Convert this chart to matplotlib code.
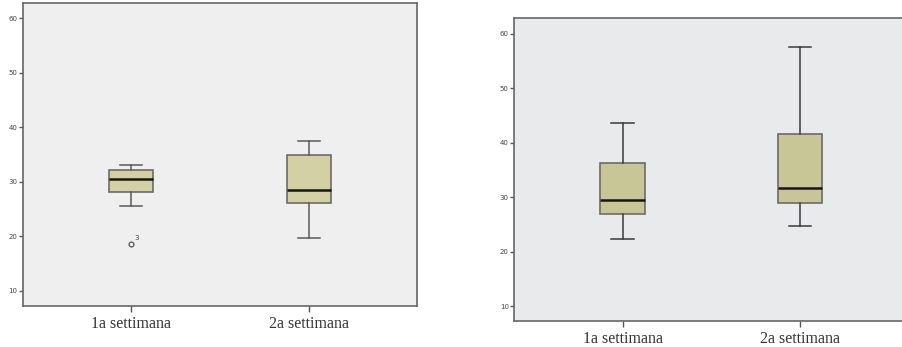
import numpy as np
import matplotlib
matplotlib.use('Agg')
import matplotlib.pyplot as plt

# categorie e statistiche dei boxplot (min, Q1, mediana, Q3, max)
settimane = ['1a settimana', '2a settimana']

g1_whislo = [25.6, 19.7]
g1_q1 = [28.1, 26.2]
g1_med = [30.5, 28.55]
g1_q3 = [32.2, 35.0]
g1_whishi = [33.1, 37.5]
g1_outliers = [[18.7], []]
g1_outlier_id = ['3', None]

g2_whislo = [22.3, 24.7]
g2_q1 = [26.9, 29.0]
g2_med = [29.4, 31.6]
g2_q3 = [36.2, 41.5]
g2_whishi = [43.55, 57.5]

yticks = [10, 20, 30, 40, 50, 60]


def make_stats(lo, q1, med, q3, hi, fl=None):
    stats = []
    for i, lab in enumerate(settimane):
        stats.append(dict(label=lab, whislo=lo[i], q1=q1[i], med=med[i],
                          q3=q3[i], whishi=hi[i],
                          fliers=(fl[i] if fl else [])))
    return stats


def draw(ax, stats, bg, fill, wcol):
    ax.set_facecolor(bg)
    ax.bxp(stats, positions=[1, 2], widths=0.25, patch_artist=True,
           boxprops=dict(facecolor=fill, edgecolor='#6b6b6b', linewidth=1.2),
           medianprops=dict(color='#151515', linewidth=1.8),
           whiskerprops=dict(color=wcol, linewidth=1.1),
           capprops=dict(color=wcol, linewidth=1.1),
           capwidths=0.125,
           flierprops=dict(marker='o', markersize=3.5, markerfacecolor='none',
                           markeredgecolor='#555555', markeredgewidth=0.9))
    ax.set_xlim(0.39, 2.61)
    ax.set_ylim(7.25, 62.8)
    ax.set_yticks(yticks)
    ax.set_yticklabels([str(t) for t in yticks], fontsize=5, color='#444444')
    ax.set_xticks([1, 2])
    ax.set_xticklabels(settimane, fontsize=11.5, family='Liberation Serif',
                       color='#333333')
    ax.tick_params(axis='y', length=3, width=1, color='#555555', pad=1)
    ax.tick_params(axis='x', length=4, width=1, color='#555555', pad=3)
    for s in ax.spines.values():
        s.set_color('#666666')
        s.set_linewidth(1.2)


fig = plt.figure(figsize=(9.03, 3.47), dpi=100)
fig.patch.set_facecolor('white')

ax1 = fig.add_axes([0.0255, 0.1182, 0.4363, 0.8732])
draw(ax1, make_stats(g1_whislo, g1_q1, g1_med, g1_q3, g1_whishi, g1_outliers),
     '#eeefee', '#d3d0a3', '#5a5a5a')
for i, ids in enumerate(g1_outlier_id):
    if ids:
        for v in g1_outliers[i]:
            ax1.annotate(ids, (i + 1, v), xytext=(2.5, 2.5), textcoords='offset points',
                         fontsize=5, color='#444444')

ax2 = fig.add_axes([0.5696, 0.0741, 0.436, 0.8732])
draw(ax2, make_stats(g2_whislo, g2_q1, g2_med, g2_q3, g2_whishi),
     '#e9eaeb', '#c8c696', '#3a3a3a')

fig.savefig('out.png', dpi=100)
